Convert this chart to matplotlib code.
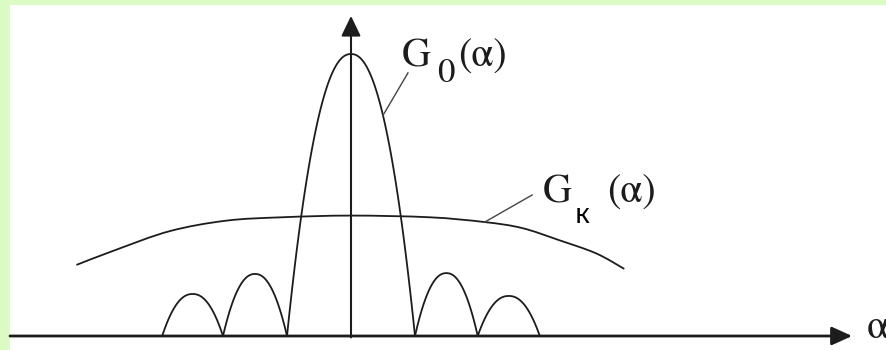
import matplotlib.pyplot as plt
import numpy as np
from matplotlib.path import Path
from matplotlib.patches import PathPatch

# zeros of G0(alpha) that bound each lobe, and the lobe heights (main lobe = 1)
lobe_zeros = [-2.95, -2.0, -1.0, 1.0, 1.98, 2.95]
lobe_peaks = [0.149, 0.22, 1.0, 0.223, 0.142]

# broad pattern Gk(alpha)
gk_alpha = [-4.29, -3.68, -2.83, -1.95, -1.08, 0.0, 1.23, 2.09, 2.67, 3.25, 3.83, 4.27]
gk_val = [0.252, 0.305, 0.372, 0.409, 0.421, 0.427, 0.421, 0.404, 0.383, 0.340, 0.293, 0.238]

green = '#dafbc4'
ink = '#1c1c1c'
serif = ['STIXGeneral', 'Liberation Serif', 'DejaVu Serif']
plt.rcParams['font.family'] = serif


def lobe(a, b, h, p=2.2, n=80):
    t = np.linspace(a, b, n)
    c = 0.5 * (a + b)
    w = 0.5 * (b - a)
    return t, h * (1 - np.abs((t - c) / w) ** p)


def smooth_path(xs, ys):
    # Catmull-Rom through the points, written as cubic Bezier segments
    pts = np.column_stack([xs, ys])
    verts = [pts[0]]
    codes = [Path.MOVETO]
    for i in range(len(pts) - 1):
        p0 = pts[max(i - 1, 0)]
        p1 = pts[i]
        p2 = pts[i + 1]
        p3 = pts[min(i + 2, len(pts) - 1)]
        verts += [p1 + (p2 - p0) / 6, p2 - (p3 - p1) / 6, p2]
        codes += [Path.CURVE4] * 3
    return Path(verts, codes)


fig = plt.figure(figsize=(8.86, 3.5), dpi=100, facecolor=green)
ax = fig.add_axes([10 / 886, 0, 876 / 886, 345 / 350])
ax.set_facecolor('white')
x0, x1 = (10 - 351) / 64, (886 - 351) / 64
ax.set_xlim(x0, x1)
ax.set_ylim(-14 / 282, 331 / 282)
for s in ax.spines.values():
    s.set_visible(False)
ax.set_xticks([])
ax.set_yticks([])

# G0 : main lobe and side lobes
for i, h in enumerate(lobe_peaks):
    t, g = lobe(lobe_zeros[i], lobe_zeros[i + 1], h)
    ax.plot(t, g, color=ink, lw=1.3, solid_capstyle='round')

# Gk
ax.add_patch(PathPatch(smooth_path(gk_alpha, gk_val), fill=False,
                       edgecolor=ink, lw=1.3))

# axes with arrows
ax.annotate('', xy=(7.83, 0), xytext=(x0, 0),
            arrowprops=dict(arrowstyle='-|>,head_length=0.62,head_width=0.28',
                            mutation_scale=20, lw=2, color=ink,
                            shrinkA=0, shrinkB=0),
            annotation_clip=False)
ax.annotate('', xy=(0, 1.135), xytext=(0, -0.005),
            arrowprops=dict(arrowstyle='-|>,head_length=0.62,head_width=0.3',
                            mutation_scale=20, lw=1.5, color=ink,
                            shrinkA=0, shrinkB=0),
            annotation_clip=False)
ax.text(8.06, 0.028, 'α', fontsize=30, va='center', ha='left', color=ink,
        clip_on=False)

# label G0(alpha)
_, g_lead = lobe(-1.0, 1.0, 1.0, n=5)
ax.plot([0.5, 0.89], [g_lead[3], 0.933], color='#444444', lw=1.0)
ax.text(0.80, 0.954, 'G', fontsize=29, color=ink)
ax.text(1.34, 0.90, '0', fontsize=25, color=ink)
ax.text(1.68, 0.954, '(α)', fontsize=29, color=ink)

# label Gk(alpha)
ax.plot([gk_alpha[7], 2.83], [gk_val[7], 0.50], color='#444444', lw=1.0)
ax.text(3.0, 0.472, 'G', fontsize=29, color=ink)
ax.text(3.5, 0.401, 'к', fontsize=20, family=['Noto Sans', 'DejaVu Sans'],
        color='black')
ax.text(4.0, 0.472, '(α)', fontsize=29, color=ink)

fig.savefig('out.png', dpi=100, facecolor=green)
